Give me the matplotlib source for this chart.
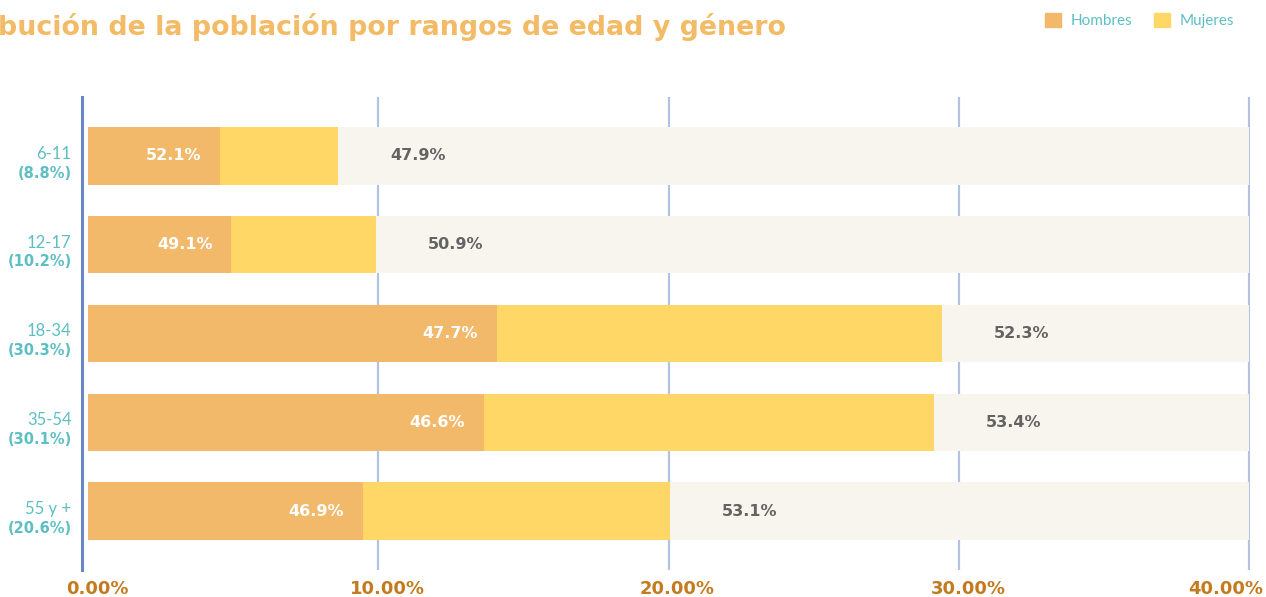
import matplotlib.pyplot as plt
import matplotlib.transforms as mtransforms
from matplotlib.patches import Patch

# data (bar lengths in axis units, % of population)
categorias = ['6-11', '12-17', '18-34', '35-54', '55 y +']
participacion = ['(8.8%)', '(10.2%)', '(30.3%)', '(30.1%)', '(20.6%)']
hombres_len = [4.55, 4.93, 14.09, 13.64, 9.46]
mujeres_len = [4.06, 4.99, 15.33, 15.50, 10.59]
hombres_pct = ['52.1%', '49.1%', '47.7%', '46.6%', '46.9%']
mujeres_pct = ['47.9%', '50.9%', '52.3%', '53.4%', '53.1%']
xticks = [0, 10, 20, 30, 40]
xtick_labels = ['0.00%', '10.00%', '20.00%', '30.00%', '40.00%']

c_hom = '#f2b96b'
c_muj = '#fed766'
c_bg = '#f8f5ee'
c_teal = '#5dbfc3'
c_grid = '#b3c1e3'
c_spine = '#6a86c6'
c_tick = '#c47a1e'

fig = plt.figure(figsize=(12.66, 5.97), dpi=100)
ax = fig.add_axes([82 / 1266, 1 - 570 / 597, 1168 / 1266, 473 / 597])

y = list(range(len(categorias)))
h = 0.65
ax.barh(y, [40] * len(y), height=h, color=c_bg, zorder=2)
ax.barh(y, hombres_len, height=h, color=c_hom, zorder=3)
ax.barh(y, mujeres_len, left=hombres_len, height=h, color=c_muj, zorder=3)

for x in xticks[1:]:
    ax.axvline(x, color=c_grid, lw=1.6, zorder=1)

for i in y:
    ax.text(hombres_len[i] - 0.65, i, hombres_pct[i], ha='right', va='center',
            color='white', fontsize=11.5, fontweight='bold', zorder=4)
    ax.text(hombres_len[i] + mujeres_len[i] + 1.8, i, mujeres_pct[i],
            ha='left', va='center', color='#636363', fontsize=11.5,
            fontweight='bold', zorder=4)
    ax.annotate(categorias[i], xy=(0, i), xycoords=('axes fraction', 'data'),
                xytext=(-7.5, 1.5), textcoords='offset points',
                ha='right', va='center', color=c_teal, fontsize=12,
                family='Lato')
    ax.annotate(participacion[i], xy=(0, i), xycoords=('axes fraction', 'data'),
                xytext=(-7.5, -12.5), textcoords='offset points',
                ha='right', va='center', color=c_teal, fontsize=10.5,
                fontweight='bold')

ax.set_xlim(-0.21, 40.03)
ax.set_ylim(4.66, -0.66)
ax.set_yticks([])
ax.set_xticks(xticks)
ax.set_xticklabels(xtick_labels, fontsize=13, fontweight='bold', color=c_tick)
ax.tick_params(axis='x', length=0, pad=7)
for lab in ax.get_xticklabels()[:-1]:
    lab.set_transform(lab.get_transform() +
                      mtransforms.ScaledTranslation(0.09, 0, fig.dpi_scale_trans))
last = ax.get_xticklabels()[-1]
last.set_horizontalalignment('right')
last.set_transform(last.get_transform() +
                   mtransforms.ScaledTranslation(0.14, 0, fig.dpi_scale_trans))

for s in ['top', 'right', 'bottom']:
    ax.spines[s].set_visible(False)
ax.spines['left'].set_color(c_spine)
ax.spines['left'].set_linewidth(2.2)

# title runs off the left edge, as in the original
fig.text(786 / 1266, 1 - 27 / 597,
         'Distribución de la población por rangos de edad y género',
         ha='right', va='center', color='#f3bb66', fontsize=19.4, fontweight='bold')

handles = [Patch(color=c_hom, label='Hombres'), Patch(color=c_muj, label='Mujeres')]
fig.legend(handles=handles, loc='upper right', ncol=2, frameon=False,
           bbox_to_anchor=(1234 / 1266, 1 - 13 / 597), borderaxespad=0,
           borderpad=0, handlelength=1.05, handleheight=1.05, handletextpad=0.65,
           columnspacing=1.4, prop={'family': 'Lato', 'size': 11},
           labelcolor=c_teal)

fig.savefig('out.png', dpi=100)
